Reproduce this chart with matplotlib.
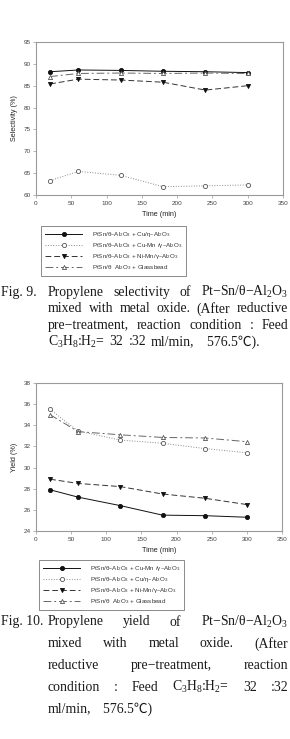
import matplotlib
matplotlib.use('Agg')
import matplotlib.pyplot as plt

plt.rcParams['font.family'] = ['Liberation Sans', 'DejaVu Sans']
plt.rcParams['mathtext.default'] = 'regular'

# data
time = [20, 60, 120, 180, 240, 300]

sel_cu = [88.2, 88.6, 88.5, 88.3, 88.2, 88.0]
sel_cumn = [63.3, 65.4, 64.5, 61.9, 62.1, 62.3]
sel_nimn = [85.4, 86.5, 86.3, 85.8, 84.0, 85.0]
sel_glass = [87.1, 87.8, 87.9, 87.8, 87.9, 87.8]

yld_cumn = [27.9, 27.2, 26.4, 25.5, 25.45, 25.3]
yld_cu = [35.5, 33.45, 32.6, 32.3, 31.8, 31.4]
yld_nimn = [28.9, 28.5, 28.2, 27.5, 27.1, 26.5]
yld_glass = [35.0, 33.4, 33.1, 32.85, 32.8, 32.45]

lab_cu = 'PtSn/θ–Al$_2$O$_3$ + Cu/η–Al$_2$O$_3$'
lab_cumn = 'PtSn/θ–Al$_2$O$_3$ + Cu-Mn /γ–Al$_2$O$_3$'
lab_nimn = 'PtSn/θ–Al$_2$O$_3$ + Ni-Mn/γ–Al$_2$O$_3$'
lab_glass = 'PtSn/θ  Al$_2$O$_3$ + Glassbead'

x_ticks = [0, 50, 100, 150, 200, 250, 300, 350]

W, H = 290, 739
fig = plt.figure(figsize=(W / 100, H / 100), dpi=100)
fig.patch.set_facecolor('white')


def fx(px):
    return px / W


def fy(py):
    return 1 - py / H


styles = [
    dict(color='#111111', ls='-', marker='o', mfc='#111111', mec='#111111'),
    dict(color='#8a8a8a', ls=':', marker='o', mfc='white', mec='#555555'),
    dict(color='#333333', ls=(0, (6, 3)), marker='v', mfc='#111111', mec='#111111'),
    dict(color='#666666', ls=(0, (8, 3, 2, 3)), marker='^', mfc='white', mec='#555555'),
]


def make_panel(rect, series, labels, ylim, yticks, ylabel, leg_xy):
    ax = fig.add_axes(rect)
    handles = []
    for s, lab, st in zip(series, labels, styles):
        h, = ax.plot(time, s, lw=0.7, ms=3.0, mew=0.6, label=lab, **st)
        handles.append(h)
    ax.set_xlim(0, 350)
    ax.set_ylim(*ylim)
    ax.set_xticks(x_ticks)
    ax.set_yticks(yticks)
    for sp in ax.spines.values():
        sp.set_color('#9a9a9a')
        sp.set_linewidth(0.8)
    ax.tick_params(labelsize=4.6, length=2, width=0.5, colors='#9a9a9a',
                   labelcolor='#444444', pad=2)
    ax.set_xlabel('Time (min)', fontsize=5.2, color='#222222', labelpad=4)
    ax.set_ylabel(ylabel, fontsize=5.2, color='#222222', labelpad=4)
    leg = fig.legend(handles=handles, loc='upper left',
                     bbox_to_anchor=leg_xy, bbox_transform=fig.transFigure,
                     fontsize=4.5, numpoints=1, handlelength=6.0,
                     handletextpad=1.5, labelspacing=0.35, borderpad=0.6,
                     fancybox=False, edgecolor='#777777', framealpha=1)
    leg.get_frame().set_linewidth(0.6)
    for t in leg.get_texts():
        t.set_color('#333333')
    return ax


make_panel([fx(36), fy(195), fx(283 - 36), (195 - 42) / H],
           [sel_cu, sel_cumn, sel_nimn, sel_glass],
           [lab_cu, lab_cumn, lab_nimn, lab_glass],
           (60, 95), list(range(60, 96, 5)), 'Selectivity (%)',
           (fx(38), fy(223)))

make_panel([fx(36), fy(531), fx(282 - 36), (531 - 383) / H],
           [yld_cumn, yld_cu, yld_nimn, yld_glass],
           [lab_cumn, lab_cu, lab_nimn, lab_glass],
           (24, 38), list(range(24, 39, 2)), 'Yield (%)',
           (fx(36), fy(557)))

# captions, justified word by word
cap_font = dict(family=['Liberation Serif', 'Noto Sans CJK KR'], size=9.9,
                color='#1a1a1a')
renderer = fig.canvas.get_renderer()
x_left, x_right = 48, 288


def caption_line(words, ypx, justify=True):
    texts = [fig.text(0, fy(ypx), w, va='center', ha='left', **cap_font)
             for w in words]
    widths = [t.get_window_extent(renderer).width for t in texts]
    if justify and len(words) > 1:
        gap = (x_right - x_left - sum(widths)) / (len(words) - 1)
    else:
        gap = 5
    x = x_left
    for t, wd in zip(texts, widths):
        t.set_x(fx(x))
        x += wd + gap


fig.text(fx(1), fy(292), 'Fig. 9.', va='center', ha='left', **cap_font)
cap9 = [
    ['Propylene', 'selectivity', 'of', 'Pt−Sn/θ−Al$_2$O$_3$'],
    ['mixed', 'with', 'metal', 'oxide.', '(After', 'reductive'],
    ['pre−treatment,', 'reaction', 'condition', ':', 'Feed'],
]
for i, words in enumerate(cap9):
    caption_line(words, 292 + 16.6 * i)
caption_line(['C$_3$H$_8$:H$_2$=', '32', ':32', 'ml/min,', '  576.5℃).'],
             292 + 16.6 * 3, justify=False)

fig.text(fx(1), fy(622), 'Fig. 10.', va='center', ha='left', **cap_font)
cap10 = [
    ['Propylene', 'yield', 'of', 'Pt−Sn/θ−Al$_2$O$_3$'],
    ['mixed', 'with', 'metal', 'oxide.', '(After'],
    ['reductive', 'pre−treatment,', 'reaction'],
    ['condition', ':', 'Feed', 'C$_3$H$_8$:H$_2$=', '32', ':32'],
]
for i, words in enumerate(cap10):
    caption_line(words, 622 + 21.7 * i)
caption_line(['ml/min,', '  576.5℃)'], 622 + 21.7 * 4, justify=False)

fig.savefig('out.png', dpi=100, facecolor='white')
